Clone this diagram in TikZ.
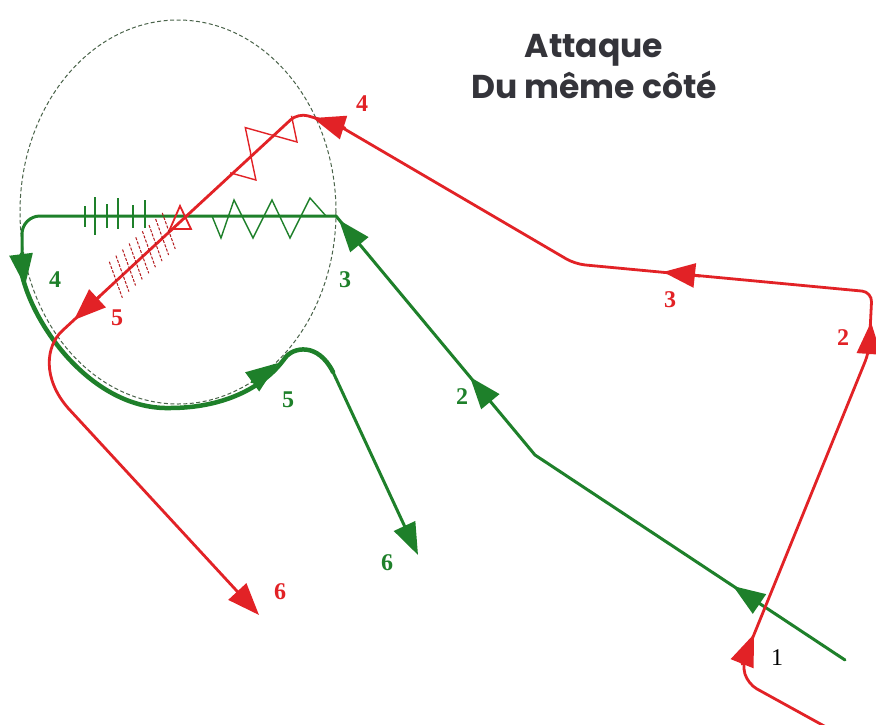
\documentclass[tikz,border=0pt]{standalone}
\usepackage{fontspec}
\setmainfont{Liberation Serif}
\newfontfamily\titlefont{Poppins}
\usetikzlibrary{arrows.meta,calc}
\definecolor{grn}{RGB}{30,128,42}
\definecolor{rdd}{RGB}{226,34,38}
\definecolor{dsh}{RGB}{75,100,75}
\definecolor{ttl}{RGB}{52,52,58}
\begin{document}
\begin{tikzpicture}[x=1pt,y=-1pt,
  rl/.style={draw=rdd,line width=2.8pt,line join=round,line cap=round},
  gl/.style={draw=grn,line width=3pt,line join=round,line cap=round},
  rtip/.style={rl,-{Triangle[length=32pt,width=24pt]}},
  gtip/.style={gl,-{Triangle[length=32pt,width=23pt]}},
  num/.style={font=\bfseries\fontsize{24}{24}\selectfont,inner sep=0pt},
  ttlf/.style={font=\titlefont\bfseries\fontsize{33}{33}\selectfont,text=ttl,inner sep=0pt,anchor=base}]
\useasboundingbox (0,0) rectangle (876,724);
\fill[white] (0,0) rectangle (876,724);

% dashed circle
\draw[dsh, line width=1pt, dash pattern=on 4pt off 2.5pt] (178,212) ellipse [x radius=158pt, y radius=192pt];

% coordinates
\coordinate (G0) at (845,660);
\coordinate (G1) at (535,455);
\coordinate (G2) at (336,216);
\coordinate (G3) at (22,216);
\coordinate (G4) at (22,275);
\coordinate (G5) at (170,408);
\coordinate (G6) at (285,358);
\coordinate (G7) at (333,372);
\coordinate (G8) at (418,555);

\coordinate (R0) at (826,727);
\coordinate (R1) at (748,684);
\coordinate (R2) at (742,664);
\coordinate (R3) at (869,352);
\coordinate (R4) at (872,292);
\coordinate (R5) at (575,264);
\coordinate (R6) at (336,124);
\coordinate (R7) at (298,113);
\coordinate (R8) at (62,331);
\coordinate (R9) at (68,408);
\coordinate (R10) at (259,615);

% green run
\draw[gl, line width=3pt] (G0) -- (G1) -- (G2) [rounded corners=18pt] -- (G3) -- (G4);
\draw[gl, line width=4.5pt] (G4) .. controls (35,330) and (95,410) .. (G5)
   .. controls (220,408) and (262,390) .. (G6)
   .. controls (293,347) and (318,342) .. (G7);
\draw[gtip, line width=3pt] (G7) -- (G8);

% green symbols
\draw[grn, line width=1.4pt, line join=miter] (212,216) -- (221,238) -- (234,200) -- (253,238) -- (272,200) -- (290,238) -- (310,198) -- (326,216);
\foreach \x/\a/\b in {85/206/227, 95/197/235, 107/204/228, 118/198/229, 133/205/228, 145/200/228}
  \draw[grn, line width=1.7pt] (\x,\a) -- (\x,\b);

% red run
\draw[rl, rounded corners=10pt] (R0) -- (R1) -- (R2) -- (R3) -- (R4) -- (R5) -- (R6) -- (R7) -- (R8);
\draw[rtip] (R8) .. controls (46,346) and (42,378) .. (R9) -- (R10);

% red symbols
\draw[rdd, line width=1.4pt, line join=miter] (271.3,134.8) -- (297,142) -- (291.5,115.8);
\draw[rdd, line width=1.4pt, line join=miter] (250.8,153.8) -- (245.3,127.6) -- (270.9,134.8);
\draw[rdd, line width=1.4pt, line join=miter] (230.2,172.8) -- (255.9,180) -- (250.4,153.9);
\foreach \u in {-16,-25,-34,-43,-52,-61,-70,-79,-88}
  \draw[rdd!80!black, line width=1pt, dash pattern=on 3pt off 1.5pt] ({180+0.735*\u-6},{219-0.679*\u-17}) -- ++(13,36);
\draw[rdd, line width=1.8pt, line join=miter] (170,229) -- (180,206) -- (191,229) -- cycle;

% arrow heads
\draw[rtip] (R2) -- (754,634);
\draw[rtip] (R3) -- (871,322);
\draw[rtip] (700,276) -- (663,272);
\draw[rtip] (345,128) -- (313,118);
\draw[rtip] (100,296) -- (74,320);

\draw[gtip] (758,603) -- (733,586);
\draw[gtip] (489,400) -- (470,377);
\draw[gtip] (358,243) -- (339,220);
\draw[gtip] (21,254) -- (25,286);
\draw[gtip] (252,382) -- (278,363);

% labels
\node[num, text=rdd] (r4) at (362,104) {4};
\node[num, text=rdd] (r3) at (670,300) {3};
\node[num, text=rdd] (r2) at (843,338) {2};
\node[num, text=rdd] (r5) at (117,318) {5};
\node[num, text=rdd] (r6) at (280,592) {6};
\node[num, text=grn] (g4) at (55,280) {4};
\node[num, text=grn] (g3) at (345,280) {3};
\node[num, text=grn] (g2) at (462,397) {2};
\node[num, text=grn] (g5) at (288,400) {5};
\node[num, text=grn] (g6) at (387,563) {6};
\node[num, font=\fontsize{24}{24}\selectfont, text=black] (b1) at (777,658) {1};

\node[ttlf] (t1) at (594,57) {Attaque};
\node[ttlf] (t2) at (594,98) {Du même côté};
\end{tikzpicture}
\end{document}
